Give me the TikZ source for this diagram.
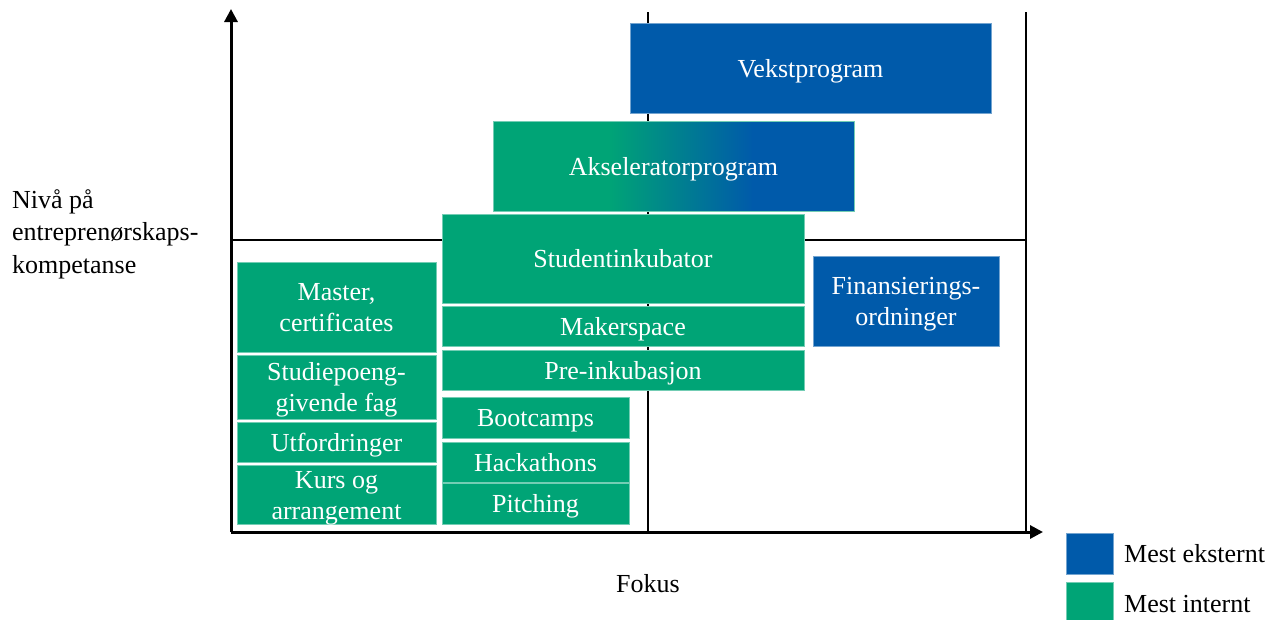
\documentclass[tikz,border=0pt]{standalone}
\usepackage{fontspec}
\setmainfont{Liberation Serif}
\usetikzlibrary{arrows.meta}
\definecolor{mblue}{RGB}{0,90,170}
\definecolor{mgreen}{RGB}{0,164,118}
\pgfdeclarehorizontalshading{accelshade}{100bp}{color(0bp)=(mgreen); color(41bp)=(mgreen); color(61bp)=(mblue); color(100bp)=(mblue)}
\newsavebox\tbox
\newlength\tmid
\newcommand\boxtext[1]{\sbox\tbox{\begin{tabular}{@{}c@{}}#1\end{tabular}}%
  \setlength\tmid{\dimexpr(\ht\tbox-\dp\tbox)/2\relax}%
  \raisebox{-3pt}[\dimexpr\tmid+10pt\relax][\dimexpr10pt-\tmid\relax]{\usebox\tbox}}
\newcommand\bx[7]{\node[box,fill=#6,draw=#6!55!white,minimum width={#4-#2},minimum height={#5-#3}] (#1) at ({(#2+#4)/2},{(#3+#5)/2}) {\boxtext{#7}};}
\begin{document}
\begin{tikzpicture}[x=1pt,y=-1pt,
  every node/.style={font=\fontsize{26}{31}\selectfont},
  box/.style={rectangle,inner sep=0pt,outer sep=0pt,line width=0.8pt,text=white,align=center},
  axisline/.style={line width=3pt,-{Triangle[length=13pt,width=13pt]}},
  thinline/.style={line width=1.6pt},
  lbl/.style={text=black,inner sep=0pt}]
\useasboundingbox (0,0) rectangle (1281,619);
% axes coordinates
\coordinate (o) at (231,532);
\coordinate (ytip) at (231,9);
\coordinate (xtip) at (1043,532);
\coordinate (mt) at (648,12);
\coordinate (mb) at (648,532);
\coordinate (rt) at (1026,12);
\coordinate (rb) at (1026,532);
\coordinate (hl) at (231,240);
\coordinate (hr) at (1026,240);
\draw[thinline] (mt) -- (mb);
\draw[thinline] (rt) -- (rb);
\draw[thinline] (hl) -- (hr);
\draw[axisline] (o) -- (ytip);
\draw[axisline] (o) -- (xtip);
% boxes
\bx{vekst}{630}{23}{991}{113}{mblue}{Vekstprogram}
\node[box,shading=accelshade,draw=mgreen!55!white,minimum width=361,minimum height=90] (aksel) at (673.5,166) {\boxtext{Akseleratorprogram}};
\bx{stud}{442}{214}{804}{303}{mgreen}{Studentinkubator}
\bx{maker}{442}{306}{804}{346}{mgreen}{Makerspace}
\bx{pre}{442}{350}{804}{390}{mgreen}{Pre-inkubasjon}
\bx{boot}{442}{397}{629}{438}{mgreen}{Bootcamps}
\bx{hack}{442}{442}{629}{482}{mgreen}{Hackathons}
\bx{pitch}{442}{483}{629}{524}{mgreen}{Pitching}
\bx{master}{237}{262}{436}{352}{mgreen}{Master,\\certificates}
\bx{poeng}{237}{355}{436}{419}{mgreen}{Studiepoeng-\\givende fag}
\bx{utf}{237}{422}{436}{462}{mgreen}{Utfordringer}
\bx{kurs}{237}{465}{436}{524}{mgreen}{Kurs og\\arrangement}
\bx{fin}{813}{256}{999}{346}{mblue}{Finansierings-\\ordninger}
% labels
\node[lbl,anchor=west,align=left,font=\fontsize{26}{32.5}\selectfont] (ylab) at (12,234) {Nivå på\\entreprenørskaps-\\kompetanse};
\node[lbl] (xlab) at (648,584) {Fokus};
% legend
\node[box,fill=mblue,draw=mblue!55!white,minimum width=47,minimum height=41] (legb) at (1089.5,553.5) {};
\node[box,fill=mgreen,draw=mgreen!55!white,minimum width=47,minimum height=38] (legg) at (1089.5,601) {};
\node[lbl,anchor=west] (legbt) at (1124,554) {Mest eksternt};
\node[lbl,anchor=west] (leggt) at (1124,604) {Mest internt};
\end{tikzpicture}
\end{document}
